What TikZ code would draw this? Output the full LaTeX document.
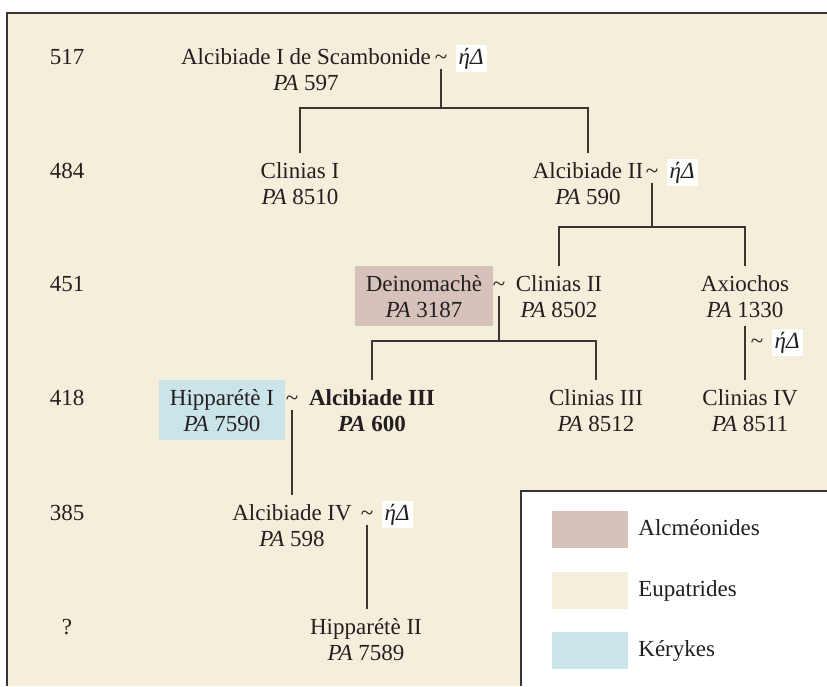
\documentclass[tikz,border=0pt]{standalone}
\usepackage{fontspec}
\setmainfont{Liberation Serif}
\usetikzlibrary{positioning}
\definecolor{eupatr}{HTML}{F5EEDB}
\definecolor{alcmeo}{HTML}{D7C1BB}
\definecolor{kerykes}{HTML}{CAE4E9}
\definecolor{ink}{HTML}{231F20}
\definecolor{rule}{HTML}{3A3636}
\newcommand{\panum}[1]{\textit{PA} #1}

\begin{document}
\begin{tikzpicture}[x=1pt,y=-1pt,font=\fontsize{23}{26}\selectfont,text=ink,
    person/.style={align=center, anchor=base, inner xsep=0pt, inner ysep=9pt},
    year/.style={anchor=base, inner sep=0pt},
    tilde/.style={anchor=base, inner xsep=2pt, inner ysep=2pt, text depth=3pt},
    eta/.style={fill=white, inner sep=3pt, font=\fontsize{23}{26}\selectfont\itshape},
    link/.style={draw=rule, line width=1.3pt},
    frame/.style={draw=rule, line width=2.2pt},
    swatch/.style={minimum width=76pt, minimum height=37pt, inner sep=0pt},
    legtext/.style={inner sep=0pt, text height=16pt, text depth=5pt}]
  \useasboundingbox (0,0) rectangle (827,686);
  % fond et cadre
  \fill[eupatr] (7,13) rectangle (827,686);
  \draw[frame] (7,686) -- (7,13) -- (827,13);

  % generations
  \node[year] (y1) at (67,64) {517};
  \node[year] (y2) at (67,178) {484};
  \node[year] (y3) at (67,291) {451};
  \node[year] (y4) at (67,405) {418};
  \node[year] (y5) at (67,520) {385};
  \node[year] (y6) at (67,634) {?};

  % personnes (base = ligne PA)
  \node[person] (alc1) at (306,90) {Alcibiade I de Scambonide\\\panum{597}};
  \node[person] (cli1) at (300,204) {Clinias I\\\panum{8510}};
  \node[person] (alc2) at (588,204) {Alcibiade II\\\panum{590}};
  \node[person, fill=alcmeo, inner xsep=11pt] (dein) at (424,317) {Deinomachè\\\panum{3187}};
  \node[person] (cli2) at (559,317) {Clinias II\\\panum{8502}};
  \node[person] (axio) at (745,317) {Axiochos\\\panum{1330}};
  \node[person, fill=kerykes, inner xsep=11pt] (hip1) at (222,431) {Hipparétè I\\\panum{7590}};
  \node[person, font=\fontsize{23}{26}\selectfont\bfseries] (alc3) at (372,431) {Alcibiade III\\\panum{600}};
  \node[person] (cli3) at (596,431) {Clinias III\\\panum{8512}};
  \node[person] (cli4) at (750,431) {Clinias IV\\\panum{8511}};
  \node[person] (alc4) at (292,546) {Alcibiade IV\\\panum{598}};
  \node[person] (hip2) at (366,660) {Hipparétè II\\\panum{7589}};

  % unions
  \node[tilde] (t1) at (441,64) {\textasciitilde};
  \node[eta, base right=6pt of t1] (e1) {ήΔ};
  \node[tilde] (t2) at (652,178) {\textasciitilde};
  \node[eta, base right=6pt of t2] (e2) {ήΔ};
  \node[tilde] (t3) at (499,291) {\textasciitilde};
  \node[tilde] (t4) at (292,405) {\textasciitilde};
  \node[tilde] (t5) at (367,520) {\textasciitilde};
  \node[eta, base right=6pt of t5] (e5) {ήΔ};
  \node[tilde] (t6) at (757,348) {\textasciitilde};
  \node[eta, base right=6pt of t6] (e6) {ήΔ};

  \coordinate (j1) at (441,108);
  \coordinate (j2) at (652,227);
  \coordinate (j3) at (499,341);

  % filiations
  \draw[link] (t1.south) -- (j1);
  \draw[link] (cli1.north) |- (j1) -| (alc2.north);
  \draw[link] (t2.south) -- (j2);
  \draw[link] (cli2.north) |- (j2) -| (axio.north);
  \draw[link] (t3.south) -- (j3);
  \draw[link] (alc3.north) |- (j3) -| (cli3.north);
  \draw[link] (axio.south) -- (axio.south |- cli4.north);
  \draw[link] (t4.south) -- (t4.south |- alc4.north);
  \draw[link] (t5.south) -- (t5.south |- hip2.north);

  % legende
  \fill[white] (521,491) rectangle (827,686);
  \draw[frame] (521,686) -- (521,491) -- (827,491);
  \node[swatch, fill=alcmeo] (sw1) at (590,529.5) {};
  \node[swatch, fill=eupatr] (sw2) at (590,590.5) {};
  \node[swatch, fill=kerykes] (sw3) at (590,650.5) {};
  \node[legtext, right=10pt of sw1] (l1) {Alcméonides};
  \node[legtext, right=10pt of sw2] (l2) {Eupatrides};
  \node[legtext, right=10pt of sw3] (l3) {Kérykes};
\end{tikzpicture}
\end{document}
